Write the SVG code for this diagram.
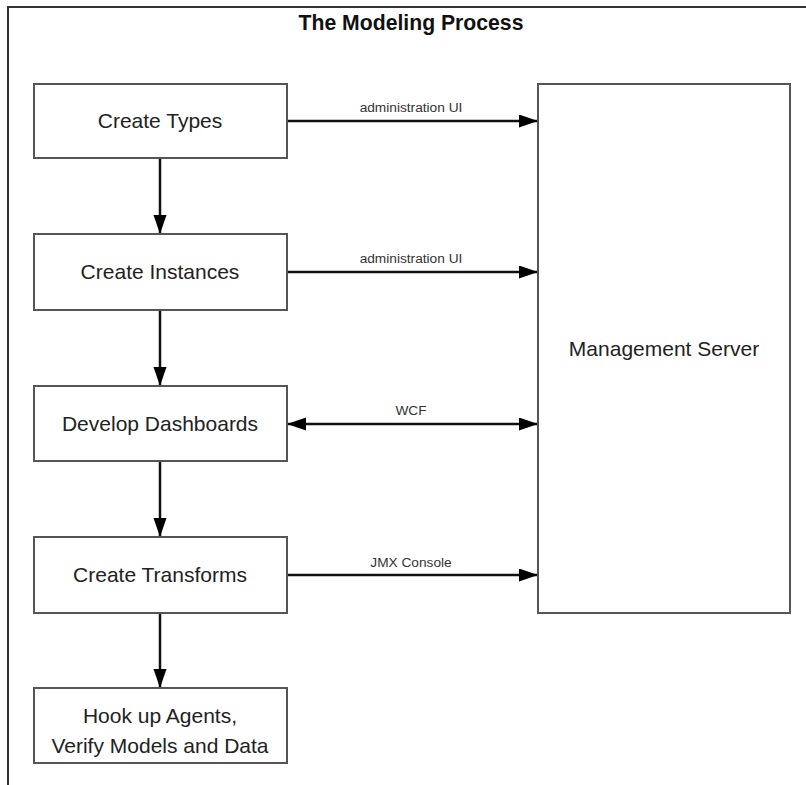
<svg xmlns="http://www.w3.org/2000/svg" width="806" height="785" viewBox="0 0 806 785">
<style>
.box{fill:#fff;stroke:#555;stroke-width:2}
.lbl{font-family:"Liberation Sans",Arial,sans-serif;font-size:21px;fill:#222;text-anchor:middle}
.elbl{font-family:"Liberation Sans",Arial,sans-serif;font-size:13.7px;fill:#333;text-anchor:middle}
.edge{stroke:#111;stroke-width:2.5;fill:none}
</style>
<defs>
<marker id="ah" markerUnits="userSpaceOnUse" markerWidth="20" markerHeight="14" refX="19" refY="6.5" orient="auto-start-reverse">
<path d="M0,0 L19,6.5 L0,13 z" fill="#000"/>
</marker>
</defs>
<rect width="806" height="785" fill="#fff"/>
<path d="M8,785 V7 H806" fill="none" stroke="#333" stroke-width="2"/>
<text x="411" y="30" font-family="'Liberation Sans',Arial,sans-serif" font-size="21.2" font-weight="bold" fill="#111" text-anchor="middle">The Modeling Process</text>
<g id="connectors">
<line class="edge" x1="160" y1="158" x2="160" y2="234" marker-end="url(#ah)"/>
<line class="edge" x1="160" y1="310" x2="160" y2="386" marker-end="url(#ah)"/>
<line class="edge" x1="160" y1="461" x2="160" y2="537" marker-end="url(#ah)"/>
<line class="edge" x1="160" y1="613" x2="160" y2="688" marker-end="url(#ah)"/>
<line class="edge" x1="287" y1="121" x2="538" y2="121" marker-end="url(#ah)"/>
<text class="elbl" x="411" y="112">administration UI</text>
<line class="edge" x1="287" y1="272" x2="538" y2="272" marker-end="url(#ah)"/>
<text class="elbl" x="411" y="263">administration UI</text>
<line class="edge" x1="287" y1="424" x2="538" y2="424" marker-start="url(#ah)" marker-end="url(#ah)"/>
<text class="elbl" x="411" y="415">WCF</text>
<line class="edge" x1="287" y1="575" x2="538" y2="575" marker-end="url(#ah)"/>
<text class="elbl" x="411" y="567">JMX Console</text>
</g>
<g id="create-types"><rect class="box" x="34" y="84" width="253" height="74"/><text class="lbl" x="160" y="128">Create Types</text></g>
<g id="create-instances"><rect class="box" x="34" y="234" width="253" height="76"/><text class="lbl" x="160" y="279">Create Instances</text></g>
<g id="develop-dashboards"><rect class="box" x="34" y="386" width="253" height="75"/><text class="lbl" x="160" y="431">Develop Dashboards</text></g>
<g id="create-transforms"><rect class="box" x="34" y="537" width="253" height="76"/><text class="lbl" x="160" y="582">Create Transforms</text></g>
<g id="hook-up"><rect class="box" x="34" y="688" width="253" height="75"/><text class="lbl" x="160" y="723">Hook up Agents,</text><text class="lbl" x="160" y="753">Verify Models and Data</text></g>
<g id="management-server"><rect class="box" x="538" y="84" width="252" height="529"/><text class="lbl" x="664" y="356">Management Server</text></g>
</svg>
